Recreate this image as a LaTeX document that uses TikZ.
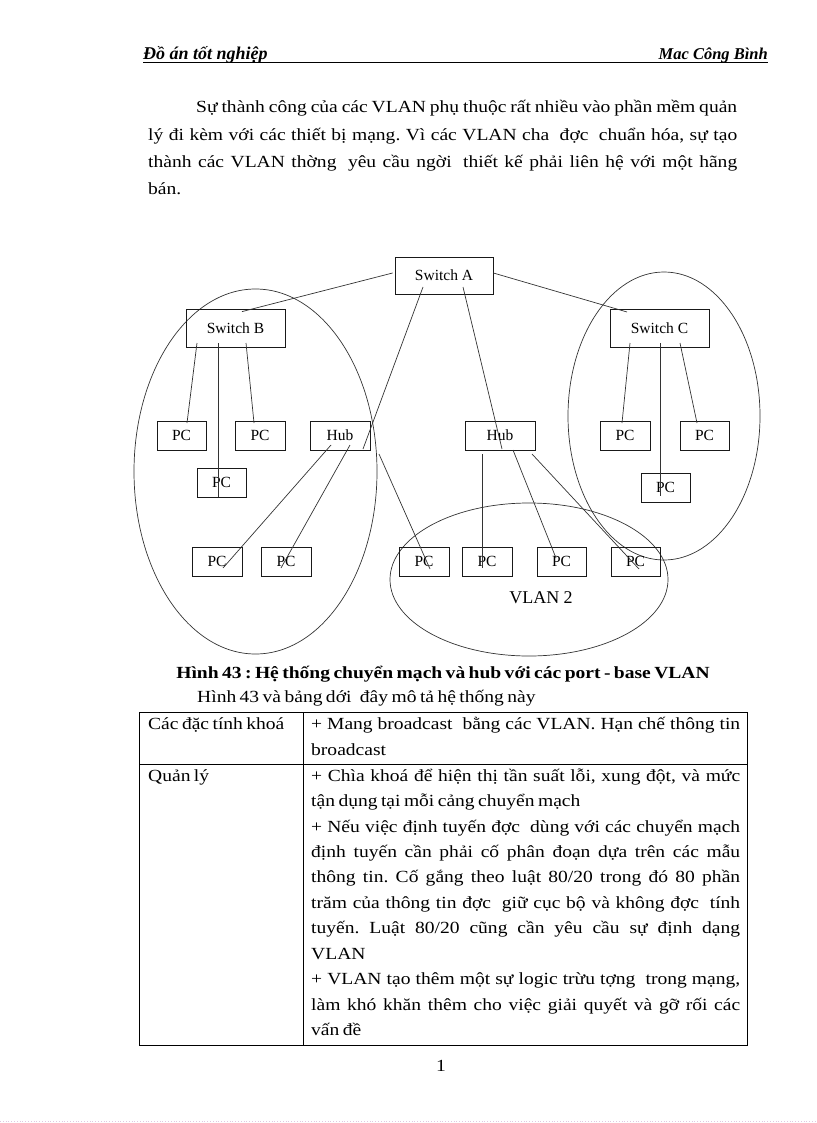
\documentclass[tikz,border=0pt]{standalone}
\usepackage{fontspec}
\setmainfont{Liberation Serif}[FakeStretch=1.15, WordSpace=0.7]
\newfontfamily\diagfont{Liberation Serif}
\usetikzlibrary{calc}
\frenchspacing
\newcommand{\jl}[2]{\makebox[#1][s]{#2}}
\newcommand{\gap}{\hspace{5pt}}
\begin{document}
\begin{tikzpicture}[x=1pt,y=-1pt,
  box/.style={draw=black!90, line width=0.8pt, inner sep=0pt, font=\diagfont\fontsize{15.5}{18}\selectfont},
  pcbox/.style={box, minimum width=49pt, minimum height=29pt},
  swbox/.style={box, minimum width=99pt, minimum height=38pt},
  link/.style={draw=black!80, line width=0.7pt},
  grp/.style={draw=black!80, line width=0.7pt},
  txt/.style={anchor=base west, inner sep=0pt, font=\frenchspacing\fontsize{17}{25.5}\selectfont},
  ctxt/.style={anchor=base, inner sep=0pt, font=\fontsize{17}{25.5}\selectfont},
  hdr/.style={inner sep=0pt, font=\bfseries\itshape\fontsize{17}{20}\selectfont},
  rule/.style={draw=black, line width=0.9pt}]
\useasboundingbox (0,0) rectangle (816,1123);

% header
\node[hdr, anchor=base west, font=\diagfont\bfseries\itshape\fontsize{18}{20}\selectfont] (hleft) at (143,60) {Đồ án tốt nghiệp};
\node[hdr, anchor=base east, font=\diagfont\bfseries\itshape\fontsize{16.5}{18}\selectfont] (hright) at (768,60) {Mac Công Bình};
\coordinate (hl) at (143,63);
\coordinate (hr) at (768,63);
\draw[line width=1pt] (hl) -- (hr);

% paragraph
\node[txt] (p1) at (196,113) {\jl{541pt}{Sự thành công của các VLAN phụ thuộc rất nhiều vào phần mềm quản}};
\node[txt] (p2) at (148,141) {\jl{589pt}{lý đi kèm với các thiết bị mạng. Vì các VLAN cha\gap{} đợc\gap{} chuẩn hóa, sự tạo}};
\node[txt] (p3) at (148,168) {\jl{589pt}{thành các VLAN thờng\gap{} yêu cầu ngời\gap{} thiết kế phải liên hệ với một hãng}};
\node[txt] (p4) at (148,195) {bán.};

% groups
\draw[grp] (255.5,471.5) ellipse [x radius=121.5, y radius=182.5];
\draw[grp] (664,416) ellipse [x radius=96, y radius=144];
\draw[grp] (529,579.5) ellipse [x radius=139, y radius=76.5];

% nodes
\node[box, minimum width=98pt, minimum height=37pt] (swA) at (444,275.5) {Switch A};
\node[swbox] (swB) at (235.5,328) {Switch B};
\node[swbox] (swC) at (659.5,328) {Switch C};
\node[pcbox] (pc1) at (181.5,435.5) {PC};
\node[pcbox, minimum width=50pt] (pc2) at (260,435.5) {PC};
\node[box, minimum width=60pt, minimum height=29pt] (hub1) at (340,435.5) {Hub};
\node[box, minimum width=70pt, minimum height=29pt] (hub2) at (500,435.5) {Hub};
\node[pcbox] (pc3) at (221.5,482.5) {PC};
\node[pcbox, minimum width=50pt] (pcC1) at (625,435.5) {PC};
\node[pcbox] (pcC2) at (704.5,435.5) {PC};
\node[pcbox] (pcC3) at (665.5,487.5) {PC};
\node[pcbox, minimum width=50pt] (pcb1) at (217,561.5) {PC};
\node[pcbox, minimum width=50pt] (pcb2) at (286,561.5) {PC};
\node[pcbox, minimum width=50pt] (pcv1) at (424,561.5) {PC};
\node[pcbox, minimum width=50pt] (pcv2) at (487,561.5) {PC};
\node[pcbox] (pcv3) at (561.5,561.5) {PC};
\node[pcbox] (pcv4) at (635.5,561.5) {PC};
\node[inner sep=0pt, anchor=base, font=\diagfont\fontsize{18}{20}\selectfont] (vlan) at (541,603) {VLAN 2};

% links
\draw[link] ([shift={(-2,-2.5)}]swA.west) -- ([shift={(6.5,3)}]swB.north);
\draw[link] ([shift={(-21,11.5)}]swA.center) -- ([shift={(23,13.5)}]hub1.center);
\draw[link] ([shift={(39,18.5)}]hub1.center) -- ([shift={(6,7.5)}]pcv1.center);
\draw[link] ([shift={(19,11.5)}]swA.center) -- ([shift={(2,13.5)}]hub2.center);
\draw[link] ([shift={(0,-2.5)}]swA.east) -- ([shift={(-32.5,-16)}]swC.center);
\draw[link] ([shift={(-38.5,15)}]swB.center) -- ([shift={(5.5,-12.5)}]pc1.center);
\draw[link] ([shift={(-17.5,15)}]swB.center) -- ([shift={(-3.5,14.5)}]pc3.center);
\draw[link] ([shift={(10.5,15)}]swB.center) -- ([shift={(-6,-12.5)}]pc2.center);
\draw[link] ([shift={(-29.5,15)}]swC.center) -- ([shift={(-3,-12.5)}]pcC1.center);
\draw[link] ([shift={(0.5,15)}]swC.center) -- ([shift={(-5.5,8.5)}]pcC3.center);
\draw[link] ([shift={(20.5,15)}]swC.center) -- ([shift={(-7.5,-12.5)}]pcC2.center);
\draw[link] ([shift={(-9,9.5)}]hub1.center) -- ([shift={(6,6.5)}]pcb1.center);
\draw[link] ([shift={(10,9.5)}]hub1.center) -- ([shift={(-5,6.5)}]pcb2.center);
\draw[link] ([shift={(-18,18.5)}]hub2.center) -- ([shift={(-5,6.5)}]pcv2.center);
\draw[link] ([shift={(13,14.5)}]hub2.center) -- ([shift={(-5.5,-3.5)}]pcv3.center);
\draw[link] ([shift={(32,18.5)}]hub2.center) -- ([shift={(3.5,7.5)}]pcv4.center);

% caption
\node[ctxt, font=\bfseries\fontsize{17}{20}\selectfont] (cap) at (443,678) {Hình 43 : Hệ thống chuyển mạch và hub với các port - base VLAN};
\node[txt] (sub) at (197,702) {Hình 43 và bảng dới\gap{} đây mô tả hệ thống này};

% table
\draw[rule] (139,712) rectangle (747,1045);
\draw[rule] (303,712) -- (303,1045);
\draw[rule] (139,764) -- (747,764);

\node[txt] (k1) at (148,729) {Các đặc tính khoá};
\node[txt] (v1a) at (311,729) {\jl{429pt}{+ Mang broadcast\ \ bằng các VLAN. Hạn chế thông tin}};
\node[txt] (v1b) at (311,755) {broadcast};
\node[txt] (k2) at (148,781) {Quản lý};
\node[txt] (v2a) at (311,781) {\jl{429pt}{+ Chìa khoá để hiện thị tần suất lỗi, xung đột, và mức}};
\node[txt] (v2b) at (311,806.5) {tận dụng tại mỗi cảng chuyển mạch};
\node[txt] (v2c) at (311,832) {\jl{429pt}{+ Nếu việc định tuyến đợc\gap{} dùng với các chuyển mạch}};
\node[txt] (v2d) at (311,857.4) {\jl{429pt}{định tuyến cần phải cố phân đoạn dựa trên các mẫu}};
\node[txt] (v2e) at (311,882.9) {\jl{429pt}{thông tin. Cố gắng theo luật 80/20 trong đó 80 phần}};
\node[txt] (v2f) at (311,908.4) {\jl{429pt}{trăm của thông tin đợc\gap{} giữ cục bộ và không đợc\gap{} tính}};
\node[txt] (v2g) at (311,933.8) {\jl{429pt}{tuyến. Luật 80/20 cũng cần yêu cầu sự định dạng}};
\node[txt] (v2h) at (311,959.3) {VLAN};
\node[txt] (v2i) at (311,984.8) {\jl{429pt}{+ VLAN tạo thêm một sự logic trừu tợng\gap{} trong mạng,}};
\node[txt] (v2j) at (311,1010.2) {\jl{429pt}{làm khó khăn thêm cho việc giải quyết và gỡ rối các}};
\node[txt] (v2k) at (311,1035.7) {vấn đề};

% page number and bottom rule
\node[ctxt] (pno) at (441,1071) {1};
\coordinate (bl) at (0,1121);
\coordinate (br) at (816,1121);
\draw[draw={rgb,255:red,225;green,200;blue,225}, line width=0.8pt, dotted] (bl) -- (br);
\end{tikzpicture}
\end{document}
